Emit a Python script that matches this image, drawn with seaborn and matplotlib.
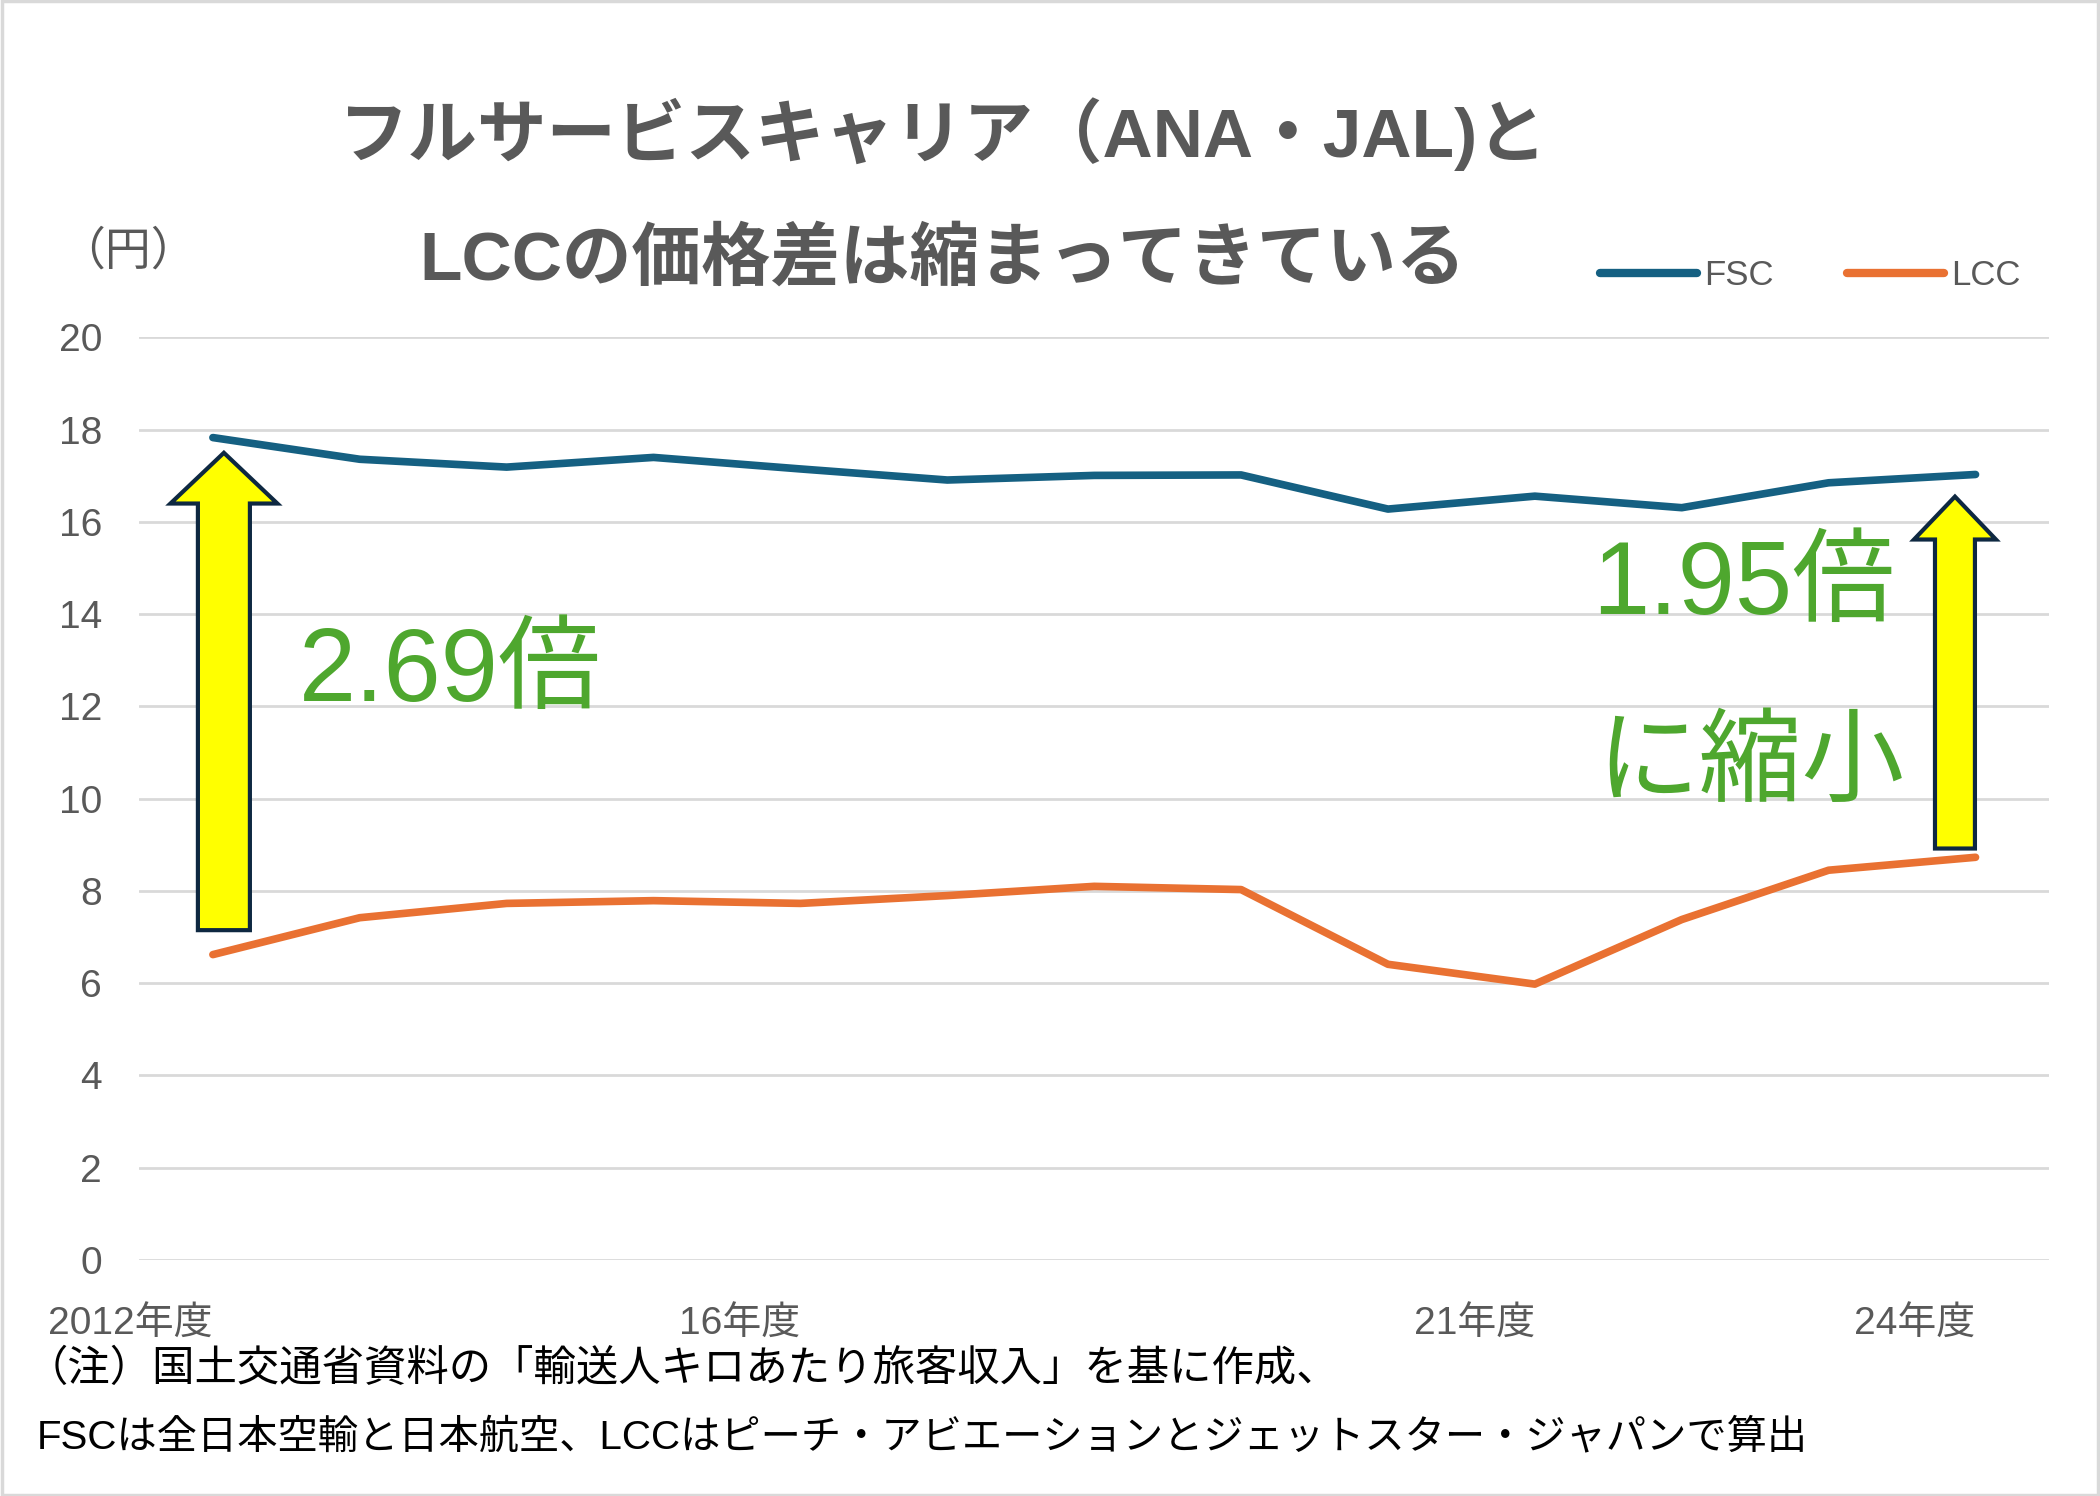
import numpy as np
import pandas as pd
import seaborn as sns
import matplotlib.pyplot as plt
from matplotlib.lines import Line2D
from matplotlib.patches import Rectangle

# 輸送人キロあたり旅客収入（円）
years = [2012, 2013, 2014, 2015, 2016, 2017, 2018, 2019, 2020, 2021, 2022, 2023, 2024]
fsc = [17.83, 17.36, 17.19, 17.40, 17.15, 16.91, 17.01, 17.02, 16.28, 16.56, 16.31, 16.85, 17.03]
lcc = [6.62, 7.42, 7.73, 7.79, 7.73, 7.90, 8.10, 8.03, 6.41, 5.98, 7.38, 8.45, 8.73]
series = ["FSC", "LCC"]
colors = {"FSC": "#156082", "LCC": "#E97132"}

tick_years = [2012, 2016, 2021, 2024]
tick_labels = ["2012年度", "16年度", "21年度", "24年度"]

title_1 = "フルサービスキャリア（ANA・JAL)と"
title_2 = "LCCの価格差は縮まってきている"
note_1 = "（注）国土交通省資料の「輸送人キロあたり旅客収入」を基に作成、"
note_2 = "FSCは全日本空輸と日本航空、LCCはピーチ・アビエーションとジェットスター・ジャパンで算出"

df = pd.DataFrame({
    "year": years * 2,
    "price": fsc + lcc,
    "series": ["FSC"] * len(years) + ["LCC"] * len(years),
})

sns.set_theme(style="white")
plt.rcParams["font.family"] = ["Liberation Sans", "Noto Sans CJK JP"]

gray = "#595959"
green = "#4EA72E"

fig = plt.figure(figsize=(21, 14.96), dpi=100)
ax = fig.add_axes([0.0664, 0.1578, 0.9093, 0.6166])

sns.lineplot(data=df, x="year", y="price", hue="series", palette=colors,
             linewidth=5.5, legend=False, ax=ax, zorder=2)
for ln in ax.lines:
    ln.set_solid_capstyle("round")
    ln.set_solid_joinstyle("round")

ax.set_xlim(2011.5, 2024.5)
ax.set_ylim(0, 20)
ax.set_yticks(range(0, 21, 2))
ax.set_xticks(tick_years)
ax.set_xticklabels(tick_labels, ha="right")
ax.tick_params(axis="y", length=0, pad=27, labelsize=28, labelcolor=gray)
ax.tick_params(axis="x", length=0, pad=34, labelsize=28, labelcolor=gray)
ax.set_xlabel("")
ax.set_ylabel("")
ax.yaxis.grid(True, color="#d9d9d9", linewidth=2)
ax.xaxis.grid(False)
for s in ax.spines.values():
    s.set_visible(False)

# yellow arrows showing the gap
ax.arrow(2012.075, 7.15, 0, 17.5 - 7.15, width=0.354, head_width=0.728, head_length=1.1,
         length_includes_head=True, fc="#FFFF00", ec="#0E2841", lw=3, zorder=3)
ax.arrow(2023.86, 8.92, 0, 16.55 - 8.92, width=0.272, head_width=0.558, head_length=0.93,
         length_includes_head=True, fc="#FFFF00", ec="#0E2841", lw=3, zorder=3)

ax.text(2012.585, 12.13, "2.69倍", fontsize=74, color=green, ha="left", va="baseline")
ax.text(2021.39, 14.0, "1.95倍", fontsize=74, color=green, ha="left", va="baseline")
ax.text(2021.42, 10.1, "に縮小", fontsize=74, color=green, ha="left", va="baseline")

# title and labels
fig.text(0.449, 0.895, title_1, fontsize=50, fontweight="bold", color=gray, ha="center", va="baseline")
fig.text(0.449, 0.8128, title_2, fontsize=50, fontweight="bold", color=gray, ha="center", va="baseline")
fig.text(0.061, 0.831, "（円）", fontsize=33, color=gray, ha="center", va="center")

handles = [Line2D([], [], color=colors[s], lw=6, solid_capstyle="round") for s in series]
fig.legend(handles, series, loc="center left", bbox_to_anchor=(0.762, 0.816), ncol=2,
           frameon=False, fontsize=25, labelcolor=gray, handlelength=2.8,
           handletextpad=0.2, columnspacing=2.1, borderpad=0, borderaxespad=0)

fig.text(0.012, 0.0846, note_1, fontsize=30.5, color="black", ha="left", va="center")
fig.text(0.0176, 0.0394, note_2, fontsize=29, color="black", ha="left", va="center")

fig.patches.append(Rectangle((0.001, 0.001), 0.998, 0.998, transform=fig.transFigure,
                             fill=False, ec="#d9d9d9", lw=2.5))

fig.savefig("out.png", dpi=100)
